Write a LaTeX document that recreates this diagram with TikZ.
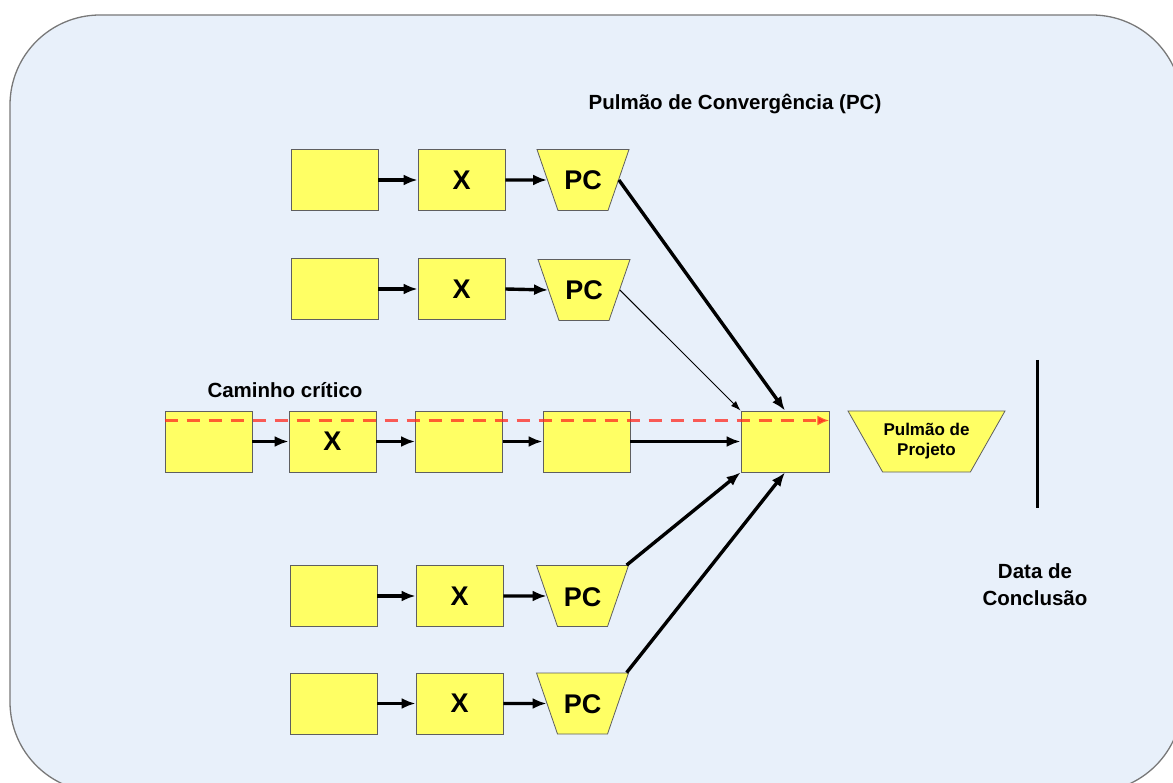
\documentclass[tikz,border=0pt]{standalone}
\usepackage{fontspec}
\setmainfont{Liberation Sans}
\usetikzlibrary{shapes.geometric, arrows.meta}

\definecolor{bgblue}{RGB}{232,240,250}
\definecolor{frame}{RGB}{120,120,120}
\definecolor{boxfill}{RGB}{255,255,100}
\definecolor{boxline}{RGB}{95,95,95}
\definecolor{critred}{RGB}{255,40,30}

\begin{document}
\begin{tikzpicture}[x=1pt, y=-1pt, >={Latex[length=14pt, width=11pt]},
  box/.style={draw=boxline, fill=boxfill, line width=0.8pt, minimum width=87pt,
    minimum height=61pt, inner sep=0pt, font=\bfseries\fontsize{27}{30}\selectfont},
  buffer/.style={box, shape=trapezium, shape border rotate=180,
    trapezium stretches body=true, trapezium angle=71, minimum width=92pt,
    text height=20pt, text depth=0pt, inner ysep=20.5pt},
  link/.style={line width=3.4pt, ->},
  thinlink/.style={line width=1pt, -{Latex[length=10pt, width=7pt]}},
  critpath/.style={critred, opacity=0.75, line width=2.8pt,
    dash pattern=on 13pt off 9pt, -{Latex[length=12pt, width=10pt]}},
  lbl/.style={font=\bfseries\fontsize{20.5}{27}\selectfont, align=center}]

  % frame
  \useasboundingbox (0,0) rectangle (1173,783);
  \clip (0,0) rectangle (1173,783);
  \draw [fill=bgblue, draw=frame, line width=1.3pt, rounded corners=90pt]
    (10,15) rectangle (1182,792);

  % feeding chains
  \node [box] (a1) at (334.5,180) {};
  \node [box] (x1) at (461.5,180) {X};
  \node [buffer] (pc1) at (583,180) {PC};

  \node [box] (a2) at (334.5,289) {};
  \node [box] (x2) at (461.5,289) {X};
  \node [buffer] (pc2) at (584,290) {PC};

  \node [box] (a4) at (333.5,596) {};
  \node [box] (x4) at (459.5,596) {X};
  \node [buffer] (pc4) at (582.5,596) {PC};

  \node [box] (a5) at (333.5,703.5) {};
  \node [box] (x5) at (459.5,703.5) {X};
  \node [buffer] (pc5) at (582.5,703.5) {PC};

  % critical chain
  \node [box] (c1) at (208.5,441.5) {};
  \node [box] (c2) at (332.5,441.5) {X};
  \node [box] (c3) at (459,441.5) {};
  \node [box] (c4) at (586.5,441.5) {};
  \node [box, minimum width=88pt] (end) at (785,441.5) {};
  \node [box, shape=trapezium, shape border rotate=180, trapezium stretches body=true,
    trapezium angle=46, minimum width=157pt,
    font=\bfseries\fontsize{17}{20}\selectfont, align=center] (pp) at (926.5,441.5)
    {Pulmão de\\Projeto};

  % labels
  \node [lbl] (pclbl) at (735,104) {Pulmão de Convergência (PC)};
  \node [lbl] (critlbl) at (285,390) {Caminho crítico};
  \node [lbl] (datelbl) at (1035,585) {Data de\\Conclusão};

  % deadline
  \coordinate (dtop) at (1037,360);
  \coordinate (dbot) at (1037,508);
  \draw [line width=3pt] (dtop) -- (dbot);

  % arrows along the chains
  \foreach \r in {1,2,4,5} {
    \draw [link] (a\r) -- (x\r);
    \draw [link] (x\r.east) -- (pc\r.west);
  }
  \draw [link] (c1) -- (c2);
  \draw [link] (c2) -- (c3);
  \draw [link] (c3) -- (c4);
  \draw [link] (c4) -- (end);

  % merging into the last task
  \draw [link] (pc1.east) -- (end.north);
  \draw [thinlink] (pc2.east) -- (end.north west);
  \draw [link] (pc4.35) -- (end.south west);
  \draw [link] (pc5.35) -- (end.south);

  % critical path marker
  \draw [critpath] ([yshift=21pt]c1.west) -- ([yshift=21pt]end.east);
\end{tikzpicture}
\end{document}
